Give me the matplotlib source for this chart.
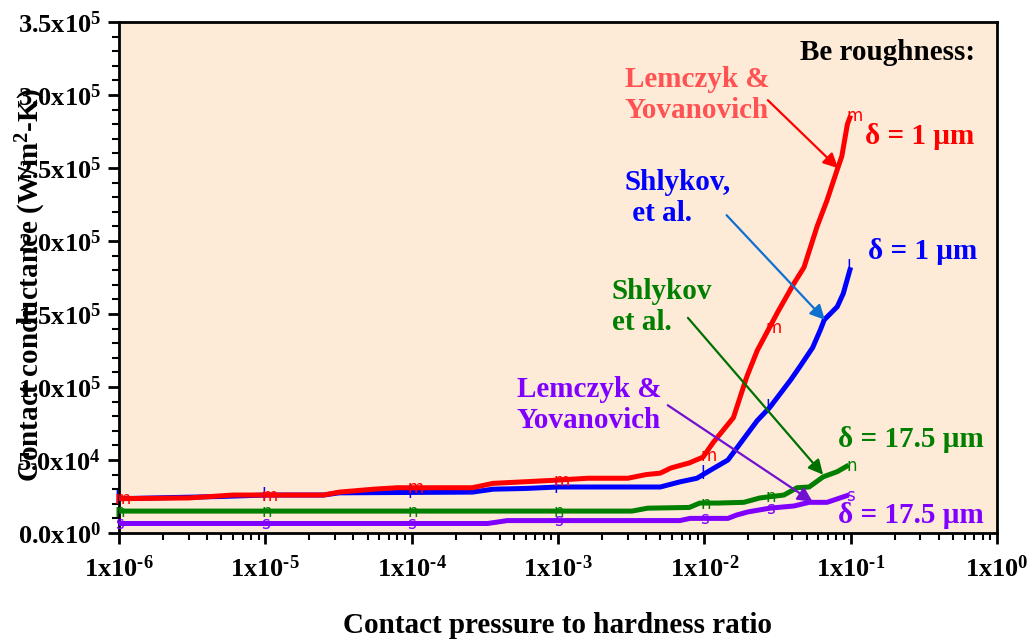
import matplotlib.pyplot as plt
import numpy as np

plt.rcParams['font.family'] = ['Liberation Serif', 'DejaVu Serif']
plt.rcParams['font.weight'] = 'bold'
plt.rcParams['mathtext.fontset'] = 'custom'
plt.rcParams['mathtext.rm'] = 'Liberation Serif:bold'
plt.rcParams['mathtext.it'] = 'Liberation Serif:bold:italic'
plt.rcParams['mathtext.bf'] = 'Liberation Serif:bold'

# Be roughness, delta = 1 um, Lemczyk & Yovanovich (red)
p_red = [1e-6, 3e-6, 6e-6, 2.5e-5, 3.2e-5, 5.5e-5, 8e-5, 2.6e-4, 3.6e-4, 9e-4,
         1.6e-3, 3e-3, 4e-3, 5e-3, 5.9e-3, 7.9e-3, 9.8e-3, 1.15e-2, 1.58e-2,
         1.95e-2, 2.3e-2, 3.16e-2, 4.1e-2, 4.8e-2, 5.9e-2, 6.9e-2, 8.1e-2,
         8.7e-2, 9.5e-2, 0.1]
h_red = [2.35e4, 2.4e4, 2.6e4, 2.6e4, 2.8e4, 3.0e4, 3.1e4, 3.1e4, 3.4e4, 3.6e4,
         3.75e4, 3.75e4, 4.0e4, 4.1e4, 4.45e4, 4.8e4, 5.2e4, 6.2e4, 7.9e4,
         1.07e5, 1.25e5, 1.51e5, 1.71e5, 1.82e5, 2.1e5, 2.28e5, 2.49e5,
         2.58e5, 2.80e5, 2.86e5]

# delta = 1 um, Shlykov et al. (blue)
p_blue = [1e-6, 5e-6, 1e-5, 2.5e-5, 3.2e-5, 2.6e-4, 3.6e-4, 6e-4, 1e-3, 5e-3,
          6.8e-3, 8.9e-3, 1.1e-2, 1.45e-2, 1.78e-2, 2.3e-2, 2.8e-2, 3.9e-2,
          4.5e-2, 5.5e-2, 6.2e-2, 6.6e-2, 8.1e-2, 8.9e-2, 0.1]
h_blue = [2.35e4, 2.5e4, 2.6e4, 2.6e4, 2.75e4, 2.8e4, 3.0e4, 3.05e4, 3.15e4, 3.15e4,
          3.5e4, 3.75e4, 4.3e4, 5.0e4, 6.2e4, 7.7e4, 8.6e4, 1.05e5,
          1.14e5, 1.27e5, 1.39e5, 1.46e5, 1.55e5, 1.64e5, 1.82e5]

# delta = 17.5 um, Shlykov et al. (green)
p_green = [1e-6, 3.2e-3, 4.1e-3, 7.9e-3, 9.3e-3, 1.23e-2, 1.86e-2, 2.4e-2,
           3.5e-2, 4.3e-2, 5.2e-2, 6.5e-2, 8.1e-2, 9.7e-2]
h_green = [1.5e4, 1.5e4, 1.7e4, 1.75e4, 2.05e4, 2.05e4, 2.1e4, 2.4e4,
           2.6e4, 3.1e4, 3.15e4, 3.85e4, 4.2e4, 4.65e4]

# delta = 17.5 um, Lemczyk & Yovanovich (purple)
p_purple = [1e-6, 3.3e-4, 4.5e-4, 6.8e-3, 8e-3, 1.45e-2, 1.66e-2, 2.0e-2,
            2.8e-2, 4.1e-2, 5.2e-2, 6.9e-2, 9.7e-2]
h_purple = [6.5e3, 6.5e3, 8.5e3, 8.5e3, 1.0e4, 1.0e4, 1.23e4, 1.45e4,
            1.7e4, 1.85e4, 2.1e4, 2.1e4, 2.6e4]

marker_p = [1e-6, 1e-5, 1e-4, 1e-3, 1e-2, 2.8e-2, 1e-1]

y_ticks = [0, 5e4, 1e5, 1.5e5, 2e5, 2.5e5, 3e5, 3.5e5]
y_labels = ['0.0x10$^{0}$', '5.0x10$^{4}$', '1.0x10$^{5}$', '1.5x10$^{5}$',
            '2.0x10$^{5}$', '2.5x10$^{5}$', '3.0x10$^{5}$', '3.5x10$^{5}$']
x_ticks = [1e-6, 1e-5, 1e-4, 1e-3, 1e-2, 1e-1, 1e0]
x_labels = ['1x10$^{\u20106}$', '1x10$^{\u20105}$', '1x10$^{\u20104}$', '1x10$^{\u20103}$',
            '1x10$^{\u20102}$', '1x10$^{\u20101}$', '1x10$^{0}$']

fig = plt.figure(figsize=(10.34, 6.42), dpi=100)
ax = fig.add_axes([0.1151, 0.1698, 0.8491, 0.7959])
ax.set_facecolor('#fdebd8')

series = [
    (p_purple, h_purple, '#8000ff', 's'),
    (p_green, h_green, '#007f00', 'n'),
    (p_blue, h_blue, '#0000ff', 'l'),
    (p_red, h_red, '#ff0000', 'm'),
]
for p, h, c, letter in series:
    ax.plot(p, h, color=c, lw=3.6, solid_capstyle='butt', zorder=3)
    lp = np.log10(p)
    for xm in marker_p:
        ym = np.interp(np.log10(xm), lp, h)
        ax.annotate(letter, (xm, ym), xytext=(-3, -4), textcoords='offset points',
                    ha='left', va='baseline', color=c, fontsize=12,
                    family='DejaVu Sans', fontweight='normal', zorder=4,
                    annotation_clip=False)

ax.set_xscale('log')
ax.set_xlim(1e-6, 1e0)
ax.set_ylim(0, 3.5e5)
ax.set_xticks(x_ticks)
ax.set_xticklabels(x_labels)
ax.set_yticks(y_ticks)
ax.set_yticklabels(y_labels)
ax.set_yticks(np.arange(0, 3.5e5 + 1, 1e4), minor=True)
ax.tick_params(which='major', length=8, width=2, labelsize=19, direction='out')
ax.tick_params(which='minor', length=5, width=1.5, direction='out')
ax.tick_params(axis='x', which='major', pad=8)
ax.tick_params(axis='y', which='major', pad=5)
for s in ax.spines.values():
    s.set_linewidth(2)

ax.set_xlabel('Contact pressure to hardness ratio', fontsize=21, fontweight='bold')
ax.xaxis.set_label_coords(0.5, -0.155)
ax.set_ylabel('Contact conductance (W/m$^{2}$-K)', fontsize=21, fontweight='bold')
ax.yaxis.set_label_coords(-0.081, 0.485)

tkw = dict(transform=ax.transAxes, fontsize=21, fontweight='bold', linespacing=1.2)
ax.text(0.975, 0.941, 'Be roughness:', color='black', ha='right', va='center', **tkw)
ax.text(0.576, 0.857, 'Lemczyk &\nYovanovich', color='#ff5252', ha='left', va='center', **tkw)
ax.text(0.850, 0.775, 'δ = 1 µm', color='#ff0000', ha='left', va='center', **tkw)
ax.text(0.576, 0.656, 'Shlykov,\n et al.', color='#0000ff', ha='left', va='center', **tkw)
ax.text(0.853, 0.550, 'δ = 1 µm', color='#0000ff', ha='left', va='center', **tkw)
ax.text(0.561, 0.442, 'Shlykov\net al.', color='#007f00', ha='left', va='center', **tkw)
ax.text(0.819, 0.182, 'δ = 17.5 µm', color='#007f00', ha='left', va='center', **tkw)
ax.text(0.453, 0.250, 'Lemczyk &\nYovanovich', color='#8000ff', ha='left', va='center', **tkw)
ax.text(0.819, 0.035, 'δ = 17.5 µm', color='#8000ff', ha='left', va='center', **tkw)

arrows = [
    ((0.739, 0.847), (0.819, 0.714), '#ff0000'),
    ((0.692, 0.622), (0.804, 0.417), '#1070d0'),
    ((0.648, 0.421), (0.802, 0.114), '#007000'),
    ((0.625, 0.250), (0.790, 0.061), '#7010d0'),
]
for start, end, c in arrows:
    ax.annotate('', xy=end, xytext=start, xycoords='axes fraction',
                textcoords='axes fraction', zorder=5,
                arrowprops=dict(arrowstyle='-|>', color=c, lw=1.6,
                                mutation_scale=22, shrinkA=0, shrinkB=0))

fig.savefig('out.png', dpi=100)
